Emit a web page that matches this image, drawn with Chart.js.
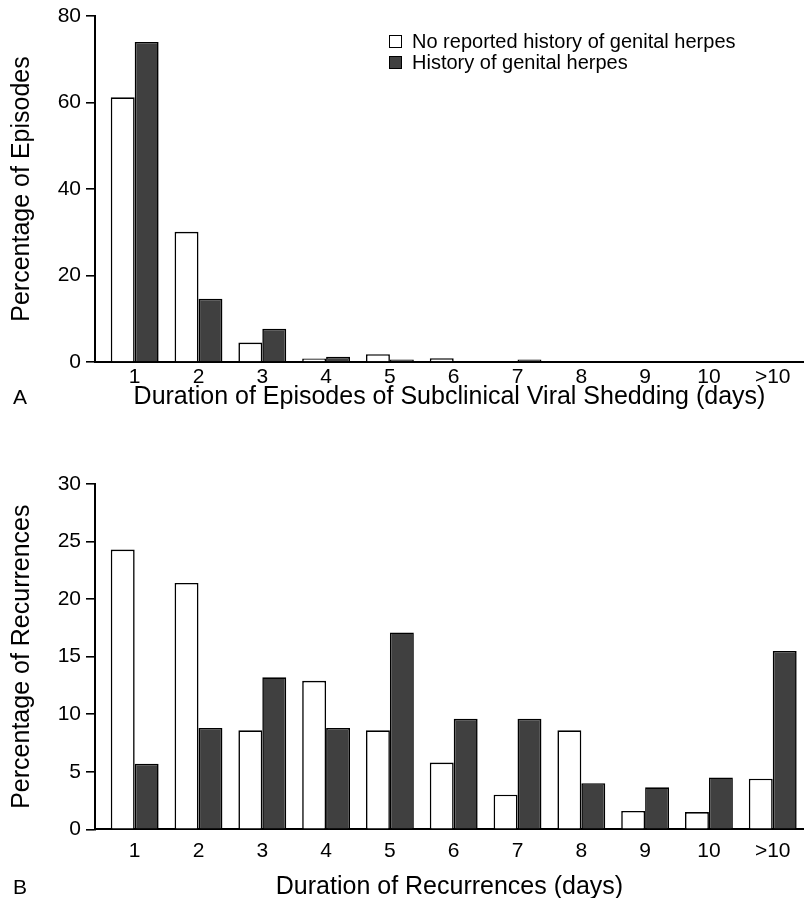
<!doctype html>
<html>
<head>
  <title>Duration of subclinical shedding and recurrences</title>
  <script src="https://cdn.jsdelivr.net/npm/chart.js"></script>
  <style>
    body { margin: 0; background: #fff; font-family: 'Liberation Sans', Arial, sans-serif; }
    .panel { position: relative; width: 804px; }
    #legend { position: absolute; left: 389px; top: 31px; font-size: 20px; color: #000; }
    #legend .row { display: flex; align-items: center; height: 21px; }
    #legend .box { width: 11px; height: 11px; border: 1.6px solid #000; margin-right: 10px; }
  </style>
</head>
<body>
<div class="panel" style="height:420px"><canvas id="chartA"></canvas><div id="legend"></div></div>
<div class="panel" style="height:478px"><canvas id="chartB"></canvas></div>
<script>
    const days = ['1', '2', '3', '4', '5', '6', '7', '8', '9', '10', '>10'];
    const seriesNames = ['No reported history of genital herpes', 'History of genital herpes'];

    // A: subclinical viral shedding (% of episodes)
    const shedNoHistory = [61.2, 30.1, 4.5, 0.8, 1.8, 0.85, 0, 0, 0, 0, 0];
    const shedHistory = [74.0, 14.6, 7.7, 1.2, 0.6, 0, 0.6, 0, 0, 0, 0];

    // B: recurrences (% of recurrences)
    const recurNoHistory = [24.3, 21.4, 8.6, 12.9, 8.6, 5.8, 3.0, 8.6, 1.6, 1.5, 4.4];
    const recurHistory = [5.7, 8.8, 13.2, 8.8, 17.1, 9.6, 9.6, 4.0, 3.65, 4.5, 15.5];

    const font = "'Liberation Sans', Arial, sans-serif";
    const colors = ['#ffffff', '#404040'];

    const panelLetter = {
        id: 'panelLetter',
        afterDraw(chart, args, opts) {
            const c = chart.ctx;
            c.save();
            c.fillStyle = '#000';
            c.font = `21px ${font}`;
            c.textBaseline = 'middle';
            c.fillText(opts.text, 13, opts.y);
            c.restore();
        }
    };

    function makeChart(id, noHist, hist, cfg) {
        const ctx = document.getElementById(id).getContext('2d');
        return new Chart(ctx, {
            type: 'bar',
            data: {
                datasets: [noHist, hist].map((vals, k) => ({
                    label: seriesNames[k],
                    data: vals.map((v, i) => ({ x: i + 1, y: v })),
                    backgroundColor: colors[k],
                    borderColor: '#000',
                    borderWidth: 1.6,
                    categoryPercentage: 0.75,
                    barPercentage: 1
                }))
            },
            options: {
                responsive: true,
                maintainAspectRatio: false,
                animation: false,
                layout: { padding: { top: cfg.top, right: 0, left: 0, bottom: 0 } },
                plugins: {
                    legend: { display: false },
                    tooltip: { enabled: false },
                    panelLetter: { text: cfg.letter, y: cfg.letterY }
                },
                scales: {
                    x: {
                        type: 'linear',
                        offset: false,
                        min: 0.378,
                        max: 11.49,
                        grid: { display: false, drawTicks: false },
                        border: { display: true, color: '#000', width: 2 },
                        ticks: {
                            stepSize: 1,
                            includeBounds: false,
                            autoSkip: false,
                            maxRotation: 0,
                            padding: cfg.xTickPad,
                            color: '#000',
                            font: { family: font, size: 21, lineHeight: 1 },
                            callback: v => days[v - 1] ?? ''
                        },
                        title: {
                            display: true,
                            text: cfg.xTitle,
                            color: '#000',
                            font: { family: font, size: 25, lineHeight: 1 },
                            padding: { top: 0, bottom: cfg.xTitlePad }
                        },
                        afterFit: s => { s.height = cfg.xHeight; }
                    },
                    y: {
                        min: 0,
                        max: cfg.yMax,
                        grid: { display: true, drawOnChartArea: false, drawTicks: true, tickLength: 9, color: '#000', lineWidth: 1.6 },
                        border: { display: true, color: '#000', width: 2 },
                        ticks: {
                            stepSize: cfg.yStep,
                            padding: 5,
                            color: '#000',
                            font: { family: font, size: 21, lineHeight: 1 }
                        },
                        title: {
                            display: true,
                            text: cfg.yTitle,
                            color: '#000',
                            font: { family: font, size: 25, lineHeight: 1 },
                            padding: { top: 10, bottom: 0 }
                        },
                        afterFit: s => { s.width = 95; }
                    }
                }
            },
            plugins: [panelLetter]
        });
    }

    makeChart('chartA', shedNoHistory, shedHistory, {
        top: 16, xHeight: 58, xTickPad: 5, xTitlePad: 10,
        yMax: 80, yStep: 20, letter: 'A', letterY: 398,
        xTitle: 'Duration of Episodes of Subclinical Viral Shedding (days)',
        yTitle: 'Percentage of Episodes'
    });
    makeChart('chartB', recurNoHistory, recurHistory, {
        top: 64, xHeight: 68.7, xTickPad: 11, xTitlePad: -2,
        yMax: 30, yStep: 5, letter: 'B', letterY: 468,
        xTitle: 'Duration of Recurrences (days)',
        yTitle: 'Percentage of Recurrences'
    });

    const legend = document.getElementById('legend');
    seriesNames.forEach((name, k) => {
        const row = document.createElement('div');
        row.className = 'row';
        const box = document.createElement('span');
        box.className = 'box';
        box.style.background = colors[k];
        row.appendChild(box);
        row.appendChild(document.createTextNode(name));
        legend.appendChild(row);
    });
</script>
</body>
</html>
